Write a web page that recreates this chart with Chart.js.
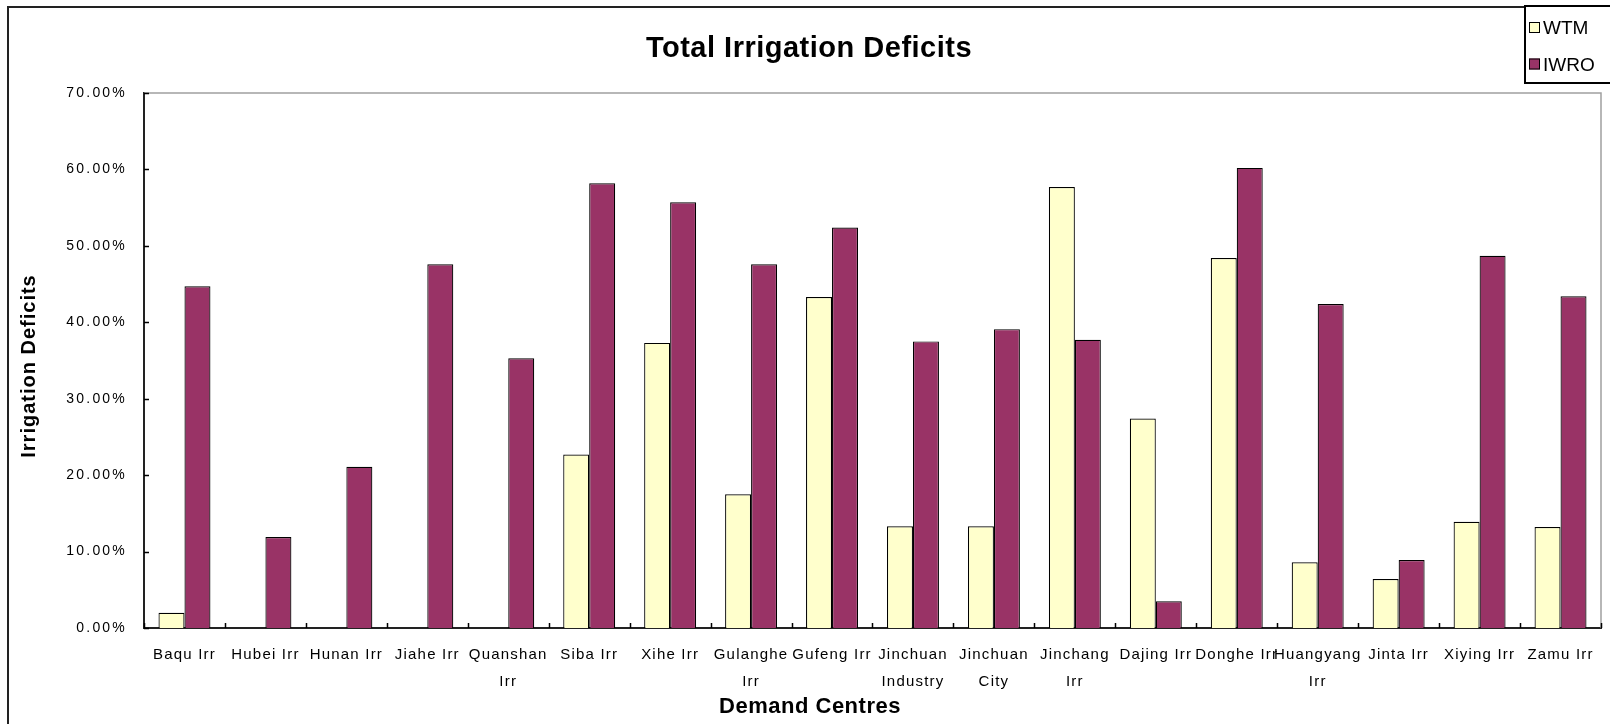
<!DOCTYPE html>
<html>
<head>
<meta charset="utf-8">
<title>Total Irrigation Deficits</title>
<script src="https://cdn.jsdelivr.net/npm/chart.js@4.4.1/dist/chart.umd.min.js"></script>
<style>
  html, body { margin: 0; padding: 0; background: #ffffff; }
  #wrap { width: 1610px; height: 724px; position: relative; }
  canvas { display: block; }
</style>
</head>
<body>
<div id="wrap"><canvas id="chart" width="1610" height="724"></canvas></div>
<script>
// Demand centres (two-line labels are given as arrays)
const categories = [
  ['Baqu Irr'], ['Hubei Irr'], ['Hunan Irr'], ['Jiahe Irr'], ['Quanshan', 'Irr'],
  ['Siba Irr'], ['Xihe Irr'], ['Gulanghe', 'Irr'], ['Gufeng Irr'], ['Jinchuan', 'Industry'],
  ['Jinchuan', 'City'], ['Jinchang', 'Irr'], ['Dajing Irr'], ['Donghe Irr'], ['Huangyang', 'Irr'],
  ['Jinta Irr'], ['Xiying Irr'], ['Zamu Irr']
];

// Irrigation deficits, percent
const wtmValues  = [2.0, 0, 0, 0, 0, 22.7, 37.3, 17.5, 43.3, 13.3, 13.3, 57.7, 27.4, 48.4, 8.6, 6.4, 13.9, 13.2];
const iwroValues = [44.7, 11.9, 21.1, 47.6, 35.3, 58.2, 55.7, 47.6, 52.4, 37.5, 39.1, 37.7, 3.5, 60.2, 42.4, 8.9, 48.7, 43.4];

const seriesNames  = ['WTM', 'IWRO'];
const seriesColors = ['#FFFFCC', '#993366'];

// Value axis ticks
const yTickValues = [0, 10, 20, 30, 40, 50, 60, 70];

const chartTitle = 'Total Irrigation Deficits';
const xAxisTitle = 'Demand Centres';
const yAxisTitle = 'Irrigation Deficits';

const FONT = '"Liberation Sans", Arial, Helvetica, sans-serif';

// Tick labels get a little extra letter spacing
function spaceLabels(scale, px) {
  if (scale.__spaced) return;
  const orig = scale.drawLabels.bind(scale);
  scale.drawLabels = function (area) {
    const ctx = this.ctx;
    ctx.save();
    ctx.letterSpacing = px + 'px';
    orig(area);
    ctx.restore();
  };
  scale.__spaced = true;
}

const decorations = {
  id: 'decorations',
  beforeDraw(chart) {
    spaceLabels(chart.scales.x, 1.2);
    spaceLabels(chart.scales.y, 2.2);
    const ctx = chart.ctx;
    ctx.save();
    // outer frame of the chart
    ctx.strokeStyle = '#222';
    ctx.lineWidth = 2;
    ctx.strokeRect(8, 7, 1700, 800);
    ctx.restore();
  },
  afterDraw(chart) {
    const ctx = chart.ctx;
    const a = chart.chartArea;
    const xs = chart.scales.x;
    const ys = chart.scales.y;
    ctx.save();

    // plot area: light top and right edges
    ctx.strokeStyle = '#a0a0a0';
    ctx.lineWidth = 1.5;
    ctx.beginPath();
    ctx.moveTo(a.left, a.top);
    ctx.lineTo(a.right, a.top);
    ctx.lineTo(a.right, a.bottom);
    ctx.stroke();

    // tick marks pointing into the plot
    ctx.strokeStyle = '#000';
    ctx.lineWidth = 1.5;
    ctx.beginPath();
    yTickValues.forEach(v => {
      const y = Math.round(ys.getPixelForValue(v)) + 0.5;
      ctx.moveTo(a.left, y);
      ctx.lineTo(a.left + 5, y);
    });
    const n = categories.length;
    const step = (xs.getPixelForValue(1) - xs.getPixelForValue(0));
    for (let i = 0; i <= n; i++) {
      const x = Math.round(xs.getPixelForValue(0) - step / 2 + i * step) + 0.5;
      ctx.moveTo(x, a.bottom);
      ctx.lineTo(x, a.bottom - 5);
    }
    ctx.stroke();

    // chart title
    ctx.fillStyle = '#000';
    ctx.textAlign = 'center';
    ctx.textBaseline = 'alphabetic';
    ctx.font = 'bold 29px ' + FONT;
    ctx.letterSpacing = '0.5px';
    ctx.fillText(chartTitle, 809, 57);

    // x axis title
    ctx.font = 'bold 22px ' + FONT;
    ctx.letterSpacing = '0.5px';
    ctx.fillText(xAxisTitle, 810, 713);

    // y axis title
    ctx.save();
    ctx.translate(35, 366);
    ctx.rotate(-Math.PI / 2);
    ctx.font = 'bold 20px ' + FONT;
    ctx.letterSpacing = '1px';
    ctx.fillText(yAxisTitle, 0, 0);
    ctx.restore();

    // legend box
    ctx.fillStyle = '#fff';
    ctx.fillRect(1525, 6, 100, 77);
    ctx.strokeStyle = '#000';
    ctx.lineWidth = 2;
    ctx.strokeRect(1525, 6, 120, 77);
    const rows = [27.5, 64];
    ctx.font = '19px ' + FONT;
    ctx.letterSpacing = '0px';
    ctx.textAlign = 'left';
    ctx.textBaseline = 'alphabetic';
    seriesNames.forEach((name, i) => {
      ctx.fillStyle = seriesColors[i];
      ctx.fillRect(1529, rows[i] - 5.5, 11, 11);
      ctx.strokeStyle = '#000';
      ctx.lineWidth = 1;
      ctx.strokeRect(1529.5, rows[i] - 5, 10, 10);
      ctx.fillStyle = '#000';
      ctx.fillText(name, 1543, rows[i] + 6.5);
    });

    ctx.restore();
  }
};

new Chart(document.getElementById('chart'), {
  type: 'bar',
  data: {
    labels: categories,
    datasets: [
      { label: seriesNames[0], data: wtmValues, backgroundColor: seriesColors[0], borderColor: '#000', borderWidth: 1.2 },
      { label: seriesNames[1], data: iwroValues, backgroundColor: seriesColors[1], borderColor: '#000', borderWidth: 1.2 }
    ]
  },
  options: {
    responsive: false,
    animation: false,
    devicePixelRatio: 1,
    layout: { padding: { top: 93, right: 9, bottom: 0, left: 0 } },
    datasets: { bar: { categoryPercentage: 0.642, barPercentage: 1.0 } },
    plugins: {
      legend: { display: false },
      title: { display: false },
      tooltip: { enabled: false }
    },
    scales: {
      x: {
        grid: { display: false, drawTicks: false },
        border: { display: true, color: '#222', width: 2 },
        ticks: {
          color: '#000',
          padding: 13,
          maxRotation: 0,
          autoSkip: false,
          font: { family: FONT, size: 15, lineHeight: '27px' }
        },
        afterFit(scale) { scale.height = 96; }
      },
      y: {
        min: 0,
        max: 70,
        grid: { display: false, drawTicks: false },
        border: { display: true, color: '#222', width: 2 },
        afterBuildTicks(scale) { scale.ticks = yTickValues.map(v => ({ value: v })); },
        ticks: {
          color: '#000',
          padding: 17,
          font: { family: FONT, size: 14 },
          callback: v => v.toFixed(2) + '%'
        },
        afterFit(scale) { scale.width = 144; }
      }
    }
  },
  plugins: [decorations]
});
</script>
</body>
</html>
